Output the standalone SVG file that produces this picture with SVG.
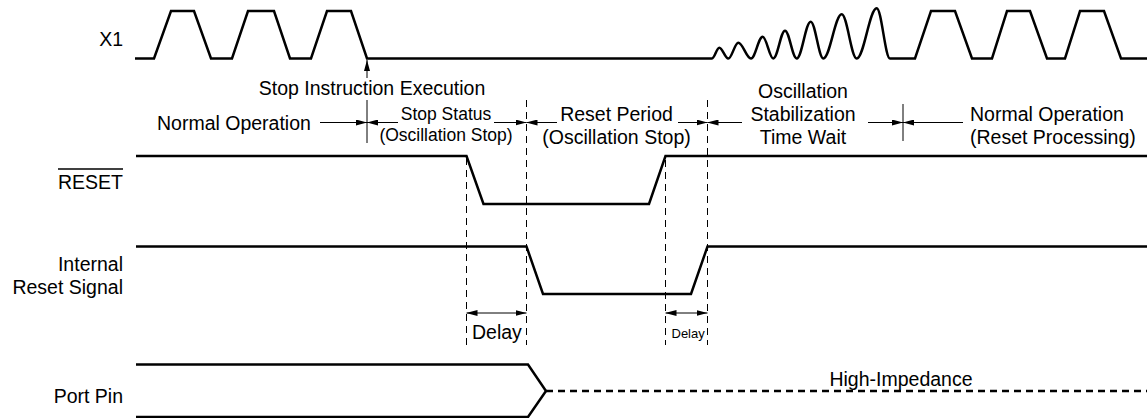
<svg xmlns="http://www.w3.org/2000/svg" width="1147" height="418" viewBox="0 0 1147 418">
<style>
.sig{fill:none;stroke:#000;stroke-width:2.5;stroke-linejoin:miter}
.hiz{fill:none;stroke:#000;stroke-width:2.5;stroke-dasharray:7,5}
.dim{fill:none;stroke:#000;stroke-width:1}
.guide{fill:none;stroke:#000;stroke-width:1;stroke-dasharray:7,5}
text{font-family:"Liberation Sans",Arial,Helvetica,sans-serif;font-size:19.5px;fill:#000}
.sm{font-size:17.5px}
.xs{font-size:13px}
.r{text-anchor:end}
.m{text-anchor:middle}
</style>
<defs>
<marker id="ah" viewBox="0 0 11 6" refX="11" refY="3" markerWidth="11" markerHeight="6" markerUnits="userSpaceOnUse" orient="auto-start-reverse"><path d="M0,0 L11,3 L0,6 z" fill="#000"/></marker>
</defs>

<g id="labels">
<text class="r" x="123" y="46">X1</text>
<text class="r" x="123" y="189">RESET</text>
<line x1="58" y1="169" x2="123" y2="169" stroke="#000" stroke-width="1.5"/>
<text class="r" x="123" y="271">Internal</text>
<text class="r" x="123" y="294">Reset Signal</text>
<text class="r" x="123" y="403">Port Pin</text>
</g>

<g id="signal-x1">
<path class="sig" d="M135,58.5 H154 L171,11 H194 L211,58.5 H232 L248,11 H274 L290,58.5 H311 L327,11 H351 L367,58.5 H712
C714.66,58.5 716.64,47.7 719.3,47.7 C722.58,47.7 725.02,58.5 728.3,58.5
C731.94,58.5 734.66,42.7 738.3,42.7 C742.93,42.7 746.37,58.5 751,58.5
C755.26,58.5 758.44,36.7 762.7,36.7 C766.56,36.7 769.44,58.5 773.3,58.5
C777.56,58.5 780.74,30.7 785,30.7 C789.26,30.7 792.44,58.5 796.7,58.5
C801.8,58.5 805.6,21.7 810.7,21.7 C815.29,21.7 818.71,58.5 823.3,58.5
C830,58.5 835,14.3 841.7,14.3 C847.16,14.3 851.24,58.5 856.7,58.5
C863.98,58.5 869.42,8.3 876.7,8.3 C881.54,8.3 885.16,58.5 890,58.5
H915 L931,11 H955 L972,58.5 H992 L1007,11 H1030 L1047,58.5 H1065 L1080,11 H1104 L1121,58.5 H1147"/>
</g>

<g id="signal-reset">
<path class="sig" d="M136,156 H466.5 L483.5,204 H649 L665.5,156 H1147"/>
</g>

<g id="signal-internal-reset">
<path class="sig" d="M136,246.5 H526.5 L543,294 H691 L707.5,246.5 H1147"/>
</g>

<g id="signal-port-pin">
<path class="sig" d="M136,364.5 H528 L546,391 L528,417 H136"/>
<path class="hiz" d="M546,391 H1147"/>
<text class="m" x="901" y="386">High-Impedance</text>
</g>

<g id="phase-labels">
<text class="m" x="372" y="95">Stop Instruction Execution</text>
<text x="157" y="130">Normal Operation</text>
<text class="m sm" x="446" y="120">Stop Status</text>
<text class="m sm" x="446" y="141">(Oscillation Stop)</text>
<text class="m" x="616.5" y="121">Reset Period</text>
<text class="m" x="616.5" y="144">(Oscillation Stop)</text>
<text class="m" x="803" y="98">Oscillation</text>
<text class="m" x="803" y="121">Stabilization</text>
<text class="m" x="803" y="144">Time Wait</text>
<text x="970" y="121">Normal Operation</text>
<text x="970" y="144">(Reset Processing)</text>
<text x="472" y="339">Delay</text>
<text class="xs" x="671.5" y="338">Delay</text>
</g>

<g id="connectors">
<line class="guide" x1="466.5" y1="158" x2="466.5" y2="345"/>
<line class="guide" x1="526.5" y1="100" x2="526.5" y2="345"/>
<line class="guide" x1="665.5" y1="160" x2="665.5" y2="345"/>
<line class="guide" x1="707.5" y1="100" x2="707.5" y2="345"/>
<line class="dim" x1="367" y1="100" x2="367" y2="143"/>
<line class="dim" x1="903" y1="104" x2="903" y2="141"/>
<line class="dim" x1="367" y1="78" x2="367" y2="60" marker-end="url(#ah)"/>
<line class="dim" x1="320" y1="122.5" x2="367" y2="122.5" marker-end="url(#ah)"/>
<line class="dim" x1="398" y1="122.5" x2="367" y2="122.5" marker-end="url(#ah)"/>
<line class="dim" x1="494" y1="122.5" x2="526.5" y2="122.5" marker-end="url(#ah)"/>
<line class="dim" x1="557" y1="122.5" x2="526.5" y2="122.5" marker-end="url(#ah)"/>
<line class="dim" x1="678" y1="122.5" x2="707.5" y2="122.5" marker-end="url(#ah)"/>
<line class="dim" x1="742" y1="122.5" x2="707.5" y2="122.5" marker-end="url(#ah)"/>
<line class="dim" x1="868" y1="122.5" x2="903" y2="122.5" marker-end="url(#ah)"/>
<line class="dim" x1="963" y1="122.5" x2="903" y2="122.5" marker-end="url(#ah)"/>
<line class="dim" x1="466.5" y1="313" x2="526.5" y2="313" marker-start="url(#ah)" marker-end="url(#ah)"/>
<line class="dim" x1="665.5" y1="313" x2="707.5" y2="313" marker-start="url(#ah)" marker-end="url(#ah)"/>
</g>
</svg>
